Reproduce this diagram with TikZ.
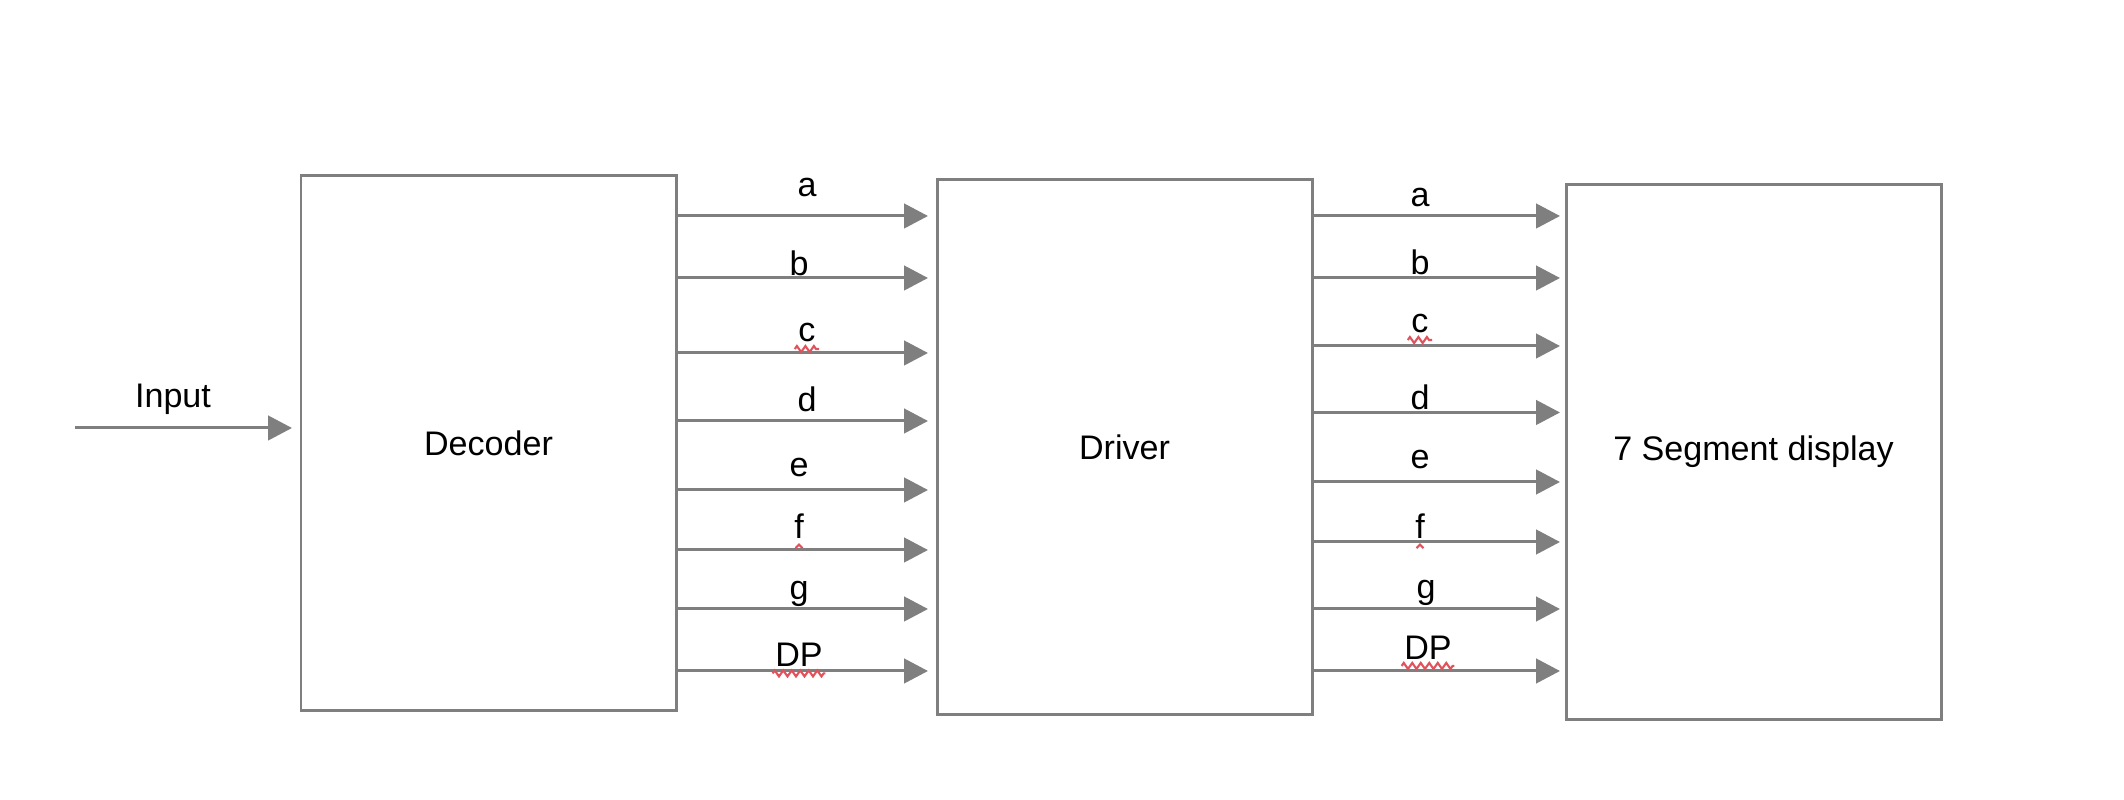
\documentclass[tikz,border=0pt]{standalone}
\usepackage{fontspec}
\setmainfont{Liberation Sans}
\usepackage{tikz}
\usetikzlibrary{arrows.meta,positioning,calc,decorations.pathmorphing}
\definecolor{LineGray}{HTML}{7F7F7F}
\definecolor{SpellRed}{HTML}{E0525C}

\begin{document}
\begin{tikzpicture}[font=\fontsize{9.7}{11.6}\selectfont,
  box/.style={draw=LineGray,line width=0.85pt,minimum width=3.75cm,minimum height=5.35cm,outer sep=0pt},
  sig/.style={draw=LineGray,line width=0.85pt,-{Triangle[length=0.24cm,width=0.245cm]}},
  lbl/.style={inner sep=0pt,text=black},
  squig/.style={draw=SpellRed,line width=0.6pt,decorate,decoration={zigzag,segment length=0.085cm,amplitude=0.03cm}}]
  \useasboundingbox (0,0) rectangle (21.24,8);
  \node[box] (dec) at (4.885,3.565) {Decoder};
  \node[box] (drv) at (11.245,3.525) {Driver};
  \node[box] (seg) at (17.535,3.484) {7 Segment display};

  \coordinate (in) at (0.75,3.72);
  \node[lbl] (inlbl) at (1.73,4.01) {Input};
  \draw[sig,shorten >=0.09cm] (in) -- (dec.west |- in);

  % decoder to driver
  \foreach \s/\ya/\xl/\yl in {a/5.84/8.07/6.12,b/5.22/7.99/5.37,c/4.47/8.07/4.67,d/3.79/8.07/4.01,e/3.10/7.99/3.32,f/2.50/7.99/2.74,g/1.91/7.99/2.06,DP/1.29/7.99/1.45}{
    \draw[sig,shorten >=0.09cm] (dec.east |- 0,\ya) -- (drv.west |- 0,\ya);
    \node[lbl] (l1\s) at (\xl,\yl) {\s};
  }
  % driver to display
  \foreach \s/\ya/\xl/\yl in {a/5.84/14.20/6.02,b/5.22/14.20/5.38,c/4.54/14.20/4.76,d/3.875/14.20/4.03,e/3.18/14.20/3.40,f/2.58/14.20/2.74,g/1.91/14.26/2.07,DP/1.29/14.28/1.525}{
    \draw[sig,shorten >=0.06cm] (drv.east |- 0,\ya) -- (seg.west |- 0,\ya);
    \node[lbl] (l2\s) at (\xl,\yl) {\s};
  }

  % spell-check marks
  \foreach \n in {l1,l2}{
    \draw[squig] ([xshift=-0.03cm,yshift=-0.06cm]\n c.south west) -- ([xshift=0.03cm,yshift=-0.06cm]\n c.south east);
    \draw[squig] ([xshift=-0.02cm,yshift=-0.06cm]\n DP.south west) -- ([xshift=0.02cm,yshift=-0.06cm]\n DP.south east);
    \draw[draw=SpellRed,line width=0.6pt] ([xshift=-0.035cm,yshift=-0.09cm]\n f.south) -- ++(0.035,0.035) -- ++(0.035,-0.035);
  }
\end{tikzpicture}
\end{document}
